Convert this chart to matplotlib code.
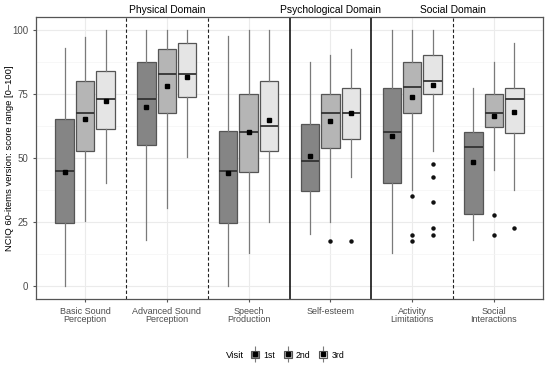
import matplotlib
matplotlib.use("Agg")
import matplotlib.pyplot as plt
from matplotlib.patches import Patch
from matplotlib.lines import Line2D
from matplotlib.legend_handler import HandlerTuple

plt.rcParams['font.family'] = ['Liberation Sans', 'DejaVu Sans']

categories = ["Basic Sound\nPerception", "Advanced Sound\nPerception", "Speech\nProduction",
              "Self-esteem", "Activity\nLimitations", "Social\nInteractions"]
visits = ["1st", "2nd", "3rd"]
domains = ["Physical Domain", "Psychological Domain", "Social Domain"]

# per visit: lists over categories
whislo = {
    "1st": [0, 18.1, 0, 20.3, 13.0, 17.9],
    "2nd": [25.3, 30.4, 12.9, 25.2, 37.7, 45.2],
    "3rd": [40.4, 50.3, 25.2, 42.7, 52.9, 37.7],
}
q1 = {
    "1st": [24.7, 55.2, 24.7, 37.0, 40.2, 28.2],
    "2nd": [52.6, 67.7, 44.6, 53.9, 67.6, 62.1],
    "3rd": [61.2, 73.8, 52.6, 57.4, 74.9, 59.9],
}
med = {
    "1st": [45.1, 72.9, 45.1, 49.0, 60.2, 54.1],
    "2nd": [67.7, 82.7, 60.1, 67.7, 77.6, 67.7],
    "3rd": [72.9, 82.7, 62.6, 67.7, 80.2, 72.9],
}
q3 = {
    "1st": [65.1, 87.6, 60.7, 63.2, 77.3, 60.1],
    "2nd": [80.0, 92.5, 74.9, 74.9, 87.6, 74.9],
    "3rd": [83.9, 95.0, 80.0, 77.5, 90.1, 77.5],
}
whishi = {
    "1st": [92.8, 100, 97.5, 87.6, 100, 77.5],
    "2nd": [97.3, 100, 100, 90.2, 100, 87.6],
    "3rd": [100, 100, 100, 92.7, 100, 95.0],
}
means = {
    "1st": [44.6, 70.0, 44.3, 50.8, 58.6, 48.4],
    "2nd": [65.2, 78.1, 60.0, 64.5, 73.7, 66.3],
    "3rd": [72.4, 81.6, 64.7, 67.7, 78.4, 67.9],
}
outliers = {
    "1st": [[], [], [], [], [], []],
    "2nd": [[], [], [], [17.7], [35.2, 20.1, 17.8], [27.7, 20.1]],
    "3rd": [[], [], [], [17.7], [47.7, 42.5, 32.8, 22.6, 20.0], [22.6]],
}

fills = {"1st": "#858585", "2nd": "#b5b5b5", "3rd": "#e5e5e5"}
edge = "#555555"
whisk = "#7a7a7a"

fig = plt.figure(figsize=(5.5, 3.67), dpi=100)
ax = fig.add_axes([36/550, 1-299/367, (543-36)/550, (299-17)/367])

offsets = {"1st": -0.25, "2nd": 0.0, "3rd": 0.25}
for v in visits:
    stats = []
    for i in range(len(categories)):
        stats.append(dict(med=med[v][i], q1=q1[v][i], q3=q3[v][i],
                          whislo=whislo[v][i], whishi=whishi[v][i],
                          fliers=outliers[v][i]))
    pos = [i + 1 + offsets[v] for i in range(len(categories))]
    ax.bxp(stats, positions=pos, widths=0.225, patch_artist=True, showcaps=False,
           boxprops=dict(facecolor=fills[v], edgecolor=edge, linewidth=0.9),
           medianprops=dict(color="#333333", linewidth=1.3),
           whiskerprops=dict(color=whisk, linewidth=0.9),
           flierprops=dict(marker='o', markersize=2.2, markerfacecolor='#111111',
                           markeredgecolor='#111111', linestyle='none'),
           zorder=3)
    ax.plot(pos, means[v], linestyle='none', marker='s', markersize=3.2,
            color='black', zorder=5)

ax.set_xlim(0.4, 6.6)
ax.set_ylim(-5, 105)
ax.set_yticks([0, 25, 50, 75, 100])
ax.set_yticks([12.5, 37.5, 62.5, 87.5], minor=True)
ax.set_xticks(range(1, 7))
ax.set_xticklabels(categories, linespacing=0.95)
ax.grid(True, which='major', color='#ebebeb', linewidth=0.8, zorder=0)
ax.grid(True, which='minor', axis='y', color='#f4f4f4', linewidth=0.5, zorder=0)
ax.set_axisbelow(True)
ax.tick_params(axis='both', which='major', colors='#555555', labelsize=6.5,
               length=2.5, pad=3, labelcolor='#4d4d4d')
ax.tick_params(axis='y', which='major', labelsize=7)
ax.tick_params(axis='y', which='minor', length=0)
for s in ax.spines.values():
    s.set_color('#555555')
    s.set_linewidth(0.9)
ax.set_ylabel("NCIQ 60-items version: score range [0\u2013100]", fontsize=6.8, color='black')
ax.yaxis.set_label_coords(-22/507, 0.5)

for x in [1.5, 2.5, 5.5]:
    ax.axvline(x, color='#222222', linestyle=(0, (3, 2)), linewidth=0.8, zorder=2)
for x in [3.5, 4.5]:
    ax.axvline(x, color='black', linewidth=1.1, zorder=2)

for lab, x in zip(domains, [2, 4, 5.5]):
    ax.text(x, 1.008, lab, transform=ax.get_xaxis_transform(), ha='center', va='bottom',
            fontsize=7.4)

fig.text(235/550, 1-355/367, "Visit", fontsize=6.8, ha='center', va='center')
handles = [(Line2D([], [], linestyle='none', marker='|', markersize=11, color=whisk,
                   markeredgewidth=0.8),
            Patch(facecolor=fills[v], edgecolor=edge, linewidth=0.8),
            Line2D([], [], linestyle='none', marker='s', markersize=3, color='black'))
           for v in visits]
leg = fig.legend(handles, visits, loc='center left', bbox_to_anchor=(251/550, 1-355/367),
                 ncol=3, frameon=False, fontsize=6.3,
                 handler_map={tuple: HandlerTuple(ndivide=1)},
                 handlelength=0.9, handleheight=0.8, columnspacing=1.0,
                 handletextpad=0.5, borderpad=0, borderaxespad=0)

fig.savefig("out.png", dpi=100)
